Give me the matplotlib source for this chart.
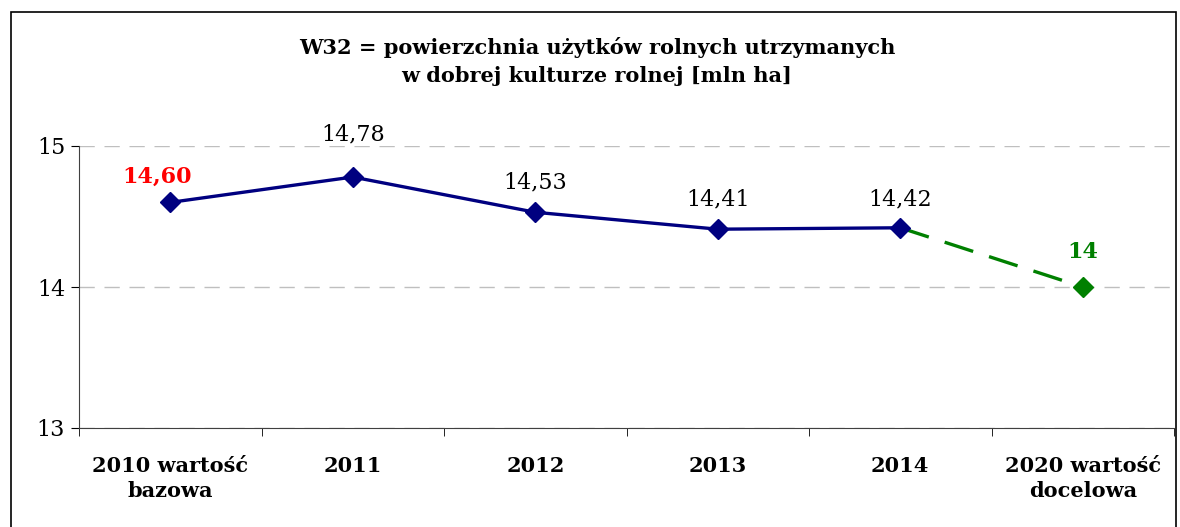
import matplotlib.pyplot as plt
from matplotlib.patches import Rectangle

categories = ["2010 wartość\nbazowa", "2011", "2012", "2013", "2014", "2020 wartość\ndocelowa"]
actual = [14.60, 14.78, 14.53, 14.41, 14.42]
actual_labels = ["14,60", "14,78", "14,53", "14,41", "14,42"]
target = [14.42, 14.0]
target_label = "14"

plt.rcParams["font.family"] = ["DejaVu Serif"]

fig = plt.figure(figsize=(11.8, 5.27), dpi=100)
ax = fig.add_axes([79 / 1180, 1 - 428 / 527, 1095 / 1180, 282 / 527])

# ramka wokół całego wykresu
fig.patches.append(Rectangle((11 / 1180, -0.05), 1165 / 1180, 1 - 12 / 527 + 0.05,
                             transform=fig.transFigure, fill=False,
                             edgecolor="black", linewidth=1.2))

x = list(range(len(categories)))
ax.plot(x[4:6], target, color="#008000", linewidth=2.4, linestyle=(0, (9, 5)), zorder=3)
ax.plot(x[5], target[1], marker="D", color="#008000", markersize=10.5, zorder=4)
ax.plot(x[:5], actual, color="#000080", linewidth=2.4, marker="D", markersize=10.5, zorder=5)

# przesunięcia etykiet nad punktami (w jednostkach osi)
offsets = [0.18, 0.305, 0.213, 0.213, 0.2]
for i, (v, lab) in enumerate(zip(actual, actual_labels)):
    if i == 0:
        ax.text(i - 0.07, v + offsets[i], lab, color="red", fontsize=16, fontweight="bold",
                ha="center", va="center")
    else:
        ax.text(i, v + offsets[i], lab, color="black", fontsize=16, ha="center", va="center")
ax.text(x[5], target[1] + 0.248, target_label, color="#008000", fontsize=16,
        fontweight="bold", ha="center", va="center")

ax.set_xlim(-0.5, 5.5)
ax.set_ylim(13, 15)
ax.set_yticks([13, 14, 15])
ax.set_yticklabels(["13", "14", "15"], fontsize=16)
ax.set_xticks(x)
ax.set_xticklabels(categories, fontsize=15, fontweight="bold", linespacing=1.3)
ax.set_xticks([i + 0.5 for i in range(-1, 6)], minor=True)
ax.tick_params(axis="x", which="major", length=0, pad=20)
ax.tick_params(axis="x", which="minor", length=6, direction="out")
ax.tick_params(axis="y", length=6, direction="out", pad=4)

ax.grid(axis="y", color="#bfbfbf", linestyle=(0, (11, 7)), linewidth=1)
for s in ["top", "right"]:
    ax.spines[s].set_visible(False)
ax.spines["left"].set_color("#404040")
ax.spines["bottom"].set_color("#404040")

fig.text(597 / 1180, 1 - 62 / 527,
         "W32 = powierzchnia użytków rolnych utrzymanych\nw dobrej kulturze rolnej [mln ha]",
         ha="center", va="center", fontsize=15, fontweight="bold", linespacing=1.5)

fig.savefig("out.png", dpi=100)
